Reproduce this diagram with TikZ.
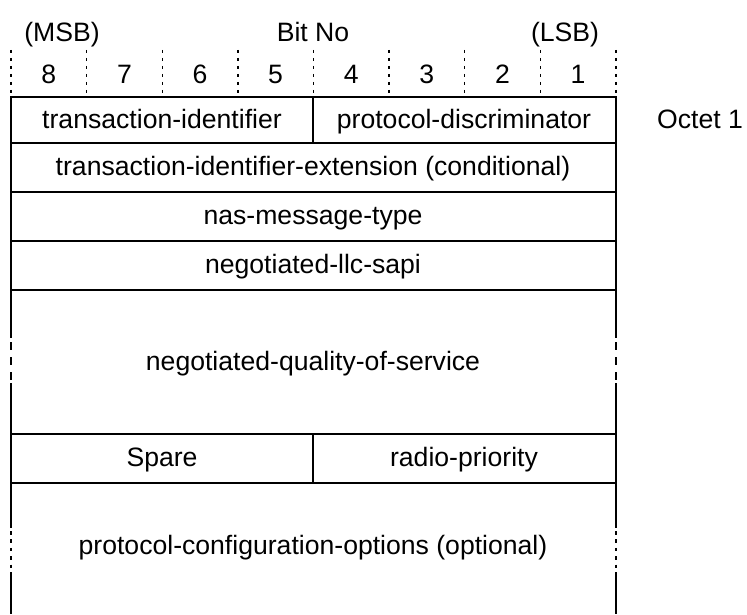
\documentclass[tikz,border=0pt]{standalone}
\usepackage{fontspec}
\setmainfont{Liberation Sans}
\usepackage{tikz}

\begin{document}
\begin{tikzpicture}[x=0.5pt, y=-0.5pt, every node/.style={inner sep=0pt, outer sep=0pt, text height=0.72em, text depth=0.21em, yshift=-1.5pt, font=\fontsize{13.3}{16}\selectfont},
  boxline/.style={line width=1pt, line cap=rect},
  tickline/.style={line width=0.7pt, dash pattern=on 1.6pt off 2.4pt}]
\useasboundingbox (0,0) rectangle (747,614);

% header
\node (msb) at (62,33) {(MSB)};
\node (bitno) at (313,33) {Bit No};
\node (lsb) at (565,33) {(LSB)};
\foreach \b [count=\i] in {8,7,6,5,4,3,2,1}
  \node (bit\b) at ({11+75.6*(\i-0.5)},75) {\b};
\foreach \i in {0,...,8}
  \draw[tickline] ({11+75.6*\i},50) -- ({11+75.6*\i},95);

% fields
\node (tid) at (162,120) {transaction-identifier};
\node (pd) at (464,120) {protocol-discriminator};
\node (octet) at (700,120) {Octet 1};
\node (tidext) at (313,167.5) {transaction-identifier-extension (conditional)};
\node (msgtype) at (313,216.5) {nas-message-type};
\node (sapi) at (313,265.5) {negotiated-llc-sapi};
\node (qos) at (313,362) {negotiated-quality-of-service};
\node (spare) at (162,458.5) {Spare};
\node (prio) at (464,458.5) {radio-priority};
\node (pco) at (313,546) {protocol-configuration-options (optional)};

% frame
\foreach \y in {97,143,192,241,290,434,483}
  \draw[boxline] (11,\y) -- (616,\y);
\draw[boxline] (313,97) -- (313,143);
\draw[boxline] (313,434) -- (313,483);
\foreach \x in {11,616} {
  \draw[boxline] (\x,97) -- (\x,337);
  \draw[line width=1pt, dash pattern=on 4pt off 3.5pt] (\x,342) -- (\x,381);
  \draw[boxline] (\x,384) -- (\x,527);
  \draw[line width=1pt, dash pattern=on 1.8pt off 2.4pt] (\x,531) -- (\x,568);
  \draw[line width=1pt] (\x,572) -- (\x,614);
}
\end{tikzpicture}
\end{document}
